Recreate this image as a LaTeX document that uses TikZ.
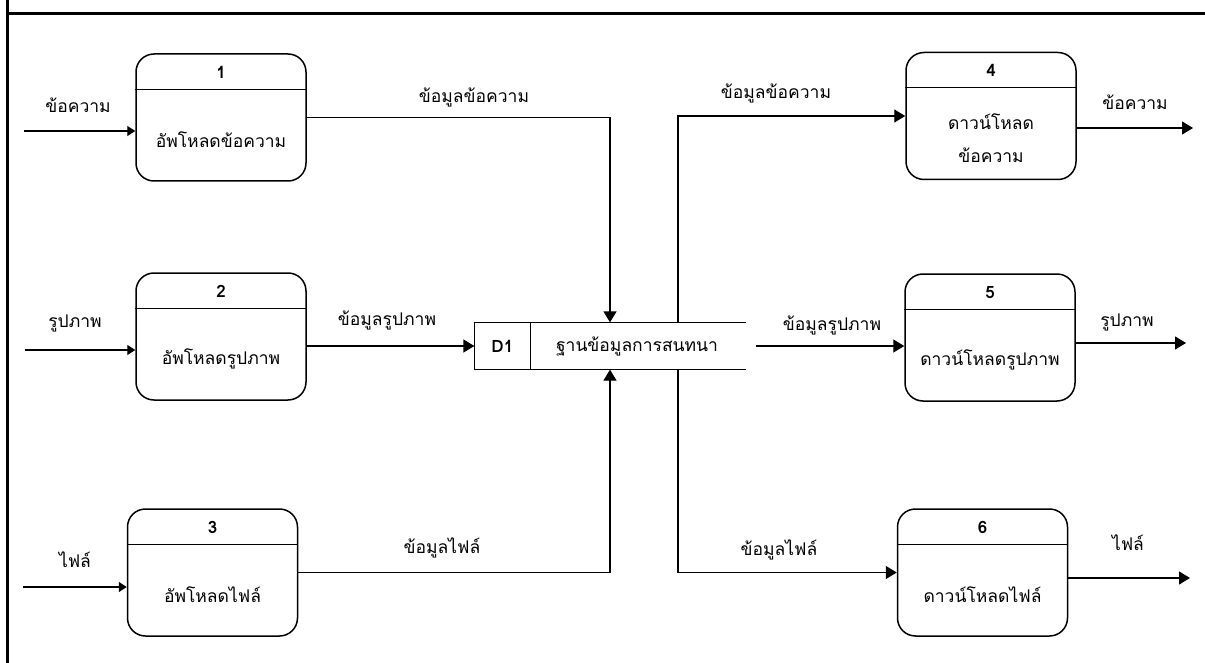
\documentclass[tikz,border=0pt]{standalone}
\usepackage{fontspec}
\setmainfont[Script=Thai]{Loma}
\usetikzlibrary{positioning, arrows.meta, calc}

\begin{document}
\begin{tikzpicture}[
    x=1pt, y=-1pt,
    % uniform thin lines for the flows
    every path/.style={color=black, line width=1.3pt},
    every node/.style={color=black, font=\fontsize{17.5}{33}\selectfont}
  ]
  \useasboundingbox (0,0) rectangle (1205,663);

  % --- styles ---
  \tikzstyle{frame style}=[line width=3pt]
  \tikzstyle{proc style}=[draw, rounded corners=18pt, minimum width=170pt, minimum height=127pt, line width=1.5pt, inner sep=0pt]
  \tikzstyle{flow}=[-{Triangle[length=11pt, width=13pt]}]
  \tikzstyle{in flow}=[-{Triangle[length=8pt, width=10pt]}]
  \tikzstyle{num style}=[font=\bfseries\fontsize{17}{20}\selectfont]

  % --- frame of the cell ---
  \draw[frame style] (7,0) -- (7,663);
  \draw[frame style] (5.5,14) -- (1205,14);

  % --- the six processes ---
  \foreach \n/\x/\y/\txt in {1/221/117.5/{อัพโหลดข้อความ},
                              2/221/336.5/{อัพโหลดรูปภาพ},
                              3/212.5/572.5/{อัพโหลดไฟล์},
                              4/991/116/{ดาวน์โหลด\\ข้อความ},
                              5/990/337.5/{ดาวน์โหลดรูปภาพ},
                              6/982.5/572.5/{ดาวน์โหลดไฟล์}} {
    \node[proc style] (p\n) at (\x,\y) {};
    \draw ($(p\n.north west)+(0,36)$) -- ($(p\n.north east)+(0,36)$);
    \node[num style] (num\n) at ($(p\n.north)+(0,19)$) {\n};
    \node[align=center] (txt\n) at ($(p\n.center)+(0,22)$) {\txt};
  }

  % --- bus on the right of the store (hidden behind it) ---
  \coordinate (bus top) at (678,0 |- p4.west);
  \coordinate (bus bottom) at (678,0 |- p6.west);
  \draw[flow] (bus bottom) |- (p4.west);
  \draw[flow] (bus bottom) -- (p6.west);

  % --- data store D1 ---
  \node[minimum width=270pt, minimum height=46pt, fill=white, inner sep=0pt] (ds) at (610,346) {};
  \draw (ds.north east) -- (ds.north west) -- (ds.south west) -- (ds.south east);
  \draw ($(ds.north west)+(56,0)$) -- ($(ds.south west)+(56,0)$);
  \node[num style] (ds id) at ($(ds.west)+(28,0)$) {D1};
  \node (ds name) at ($(ds.center)+(27,0)$) {ฐานข้อมูลการสนทนา};

  % --- flows into the store ---
  \draw[flow] (p1.east) -| (ds.north);
  \draw[flow] (p2.east |- ds.west) -- (ds.west);
  \draw[flow] (p3.east) -| (ds.south);
  \coordinate (ds out) at ($(ds.east)+(10,0)$);
  \draw[flow] (ds out) -- (ds out -| p5.west);

  % --- outside inputs and outputs ---
  \coordinate (src1) at (24,131);
  \coordinate (src2) at (25,350);
  \coordinate (src3) at (23,587);
  \draw[in flow] (src1) -- (src1 -| p1.west);
  \draw[in flow] (src2) -- (src2 -| p2.west);
  \draw[in flow] (src3) -- (src3 -| p3.west);
  \coordinate (sink4) at (1193,128);
  \coordinate (sink5) at (1186,343);
  \coordinate (sink6) at (1190,578);
  \draw[flow] (sink4 -| p4.east) -- (sink4);
  \draw[flow] (sink5 -| p5.east) -- (sink5);
  \draw[flow] (sink6 -| p6.east) -- (sink6);

  % --- flow labels ---
  \node (lbl src1) at (78,105) {ข้อความ};
  \node (lbl src2) at (75,323) {รูปภาพ};
  \node (lbl src3) at (75,560) {ไฟล์};
  \node (lbl p1) at (474,97) {ข้อมูลข้อความ};
  \node (lbl p2) at (387,320) {ข้อมูลรูปภาพ};
  \node (lbl p3) at (442,548) {ข้อมูลไฟล์};
  \node (lbl p4) at (776,93) {ข้อมูลข้อความ};
  \node (lbl p5) at (832,325) {ข้อมูลรูปภาพ};
  \node (lbl p6) at (779,550) {ข้อมูลไฟล์};
  \node (lbl sink4) at (1135,102) {ข้อความ};
  \node (lbl sink5) at (1127,322) {รูปภาพ};
  \node (lbl sink6) at (1128,543) {ไฟล์};
\end{tikzpicture}
\end{document}
